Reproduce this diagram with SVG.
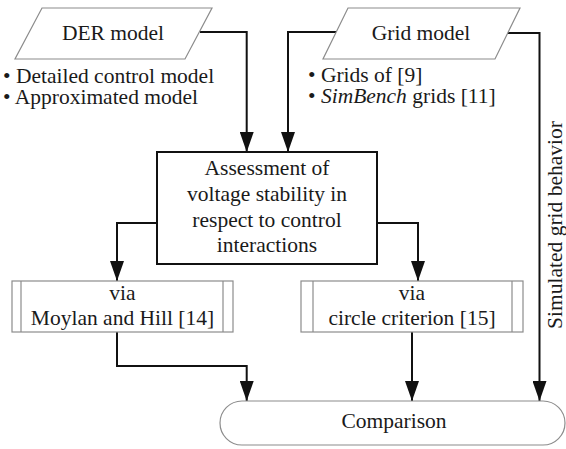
<svg xmlns="http://www.w3.org/2000/svg" width="566" height="449" viewBox="0 0 566 449" font-family="'Liberation Serif', 'Times New Roman', Tinos, 'DejaVu Serif', serif">
<style>
text{font-family:'Liberation Serif','Times New Roman',Tinos,'DejaVu Serif',serif;font-size:21.5px;fill:#1a1a1a}
.c{text-anchor:middle}
.shape{fill:#fff;stroke:#8c8c8c;stroke-width:1.2}
.main{fill:#fff;stroke:#111;stroke-width:2}
.conn{fill:none;stroke:#111;stroke-width:2;marker-end:url(#arr)}
</style>
<defs>
<marker id="arr" markerUnits="userSpaceOnUse" markerWidth="20" markerHeight="14" refX="20" refY="7" orient="auto" viewBox="0 0 20 14">
<path d="M0,0 L20,7 L0,14 z" fill="#111"/>
</marker>
</defs>
<g id="connectors">
<path class="conn" d="M200,32 H246.7 V152"/>
<path class="conn" d="M336,32 H288 V152"/>
<path class="conn" d="M505,33 H539.5 V401"/>
<path class="conn" d="M157,223 H117 V281"/>
<path class="conn" d="M377,223 H418 V281"/>
<path class="conn" d="M117,332 V366 H246.7 V401"/>
<path class="conn" d="M412,332 V401"/>
</g>
<g id="der-model">
<polygon class="shape" points="42,8 212,8 185,59 15,59"/>
<text class="c" x="113" y="40">DER model</text>
</g>
<g id="der-bullets">
<text x="3" y="83">• Detailed control model</text>
<text x="3" y="104">• Approximated model</text>
</g>
<g id="grid-model">
<polygon class="shape" points="348,8 520,8 495,59 323,59"/>
<text class="c" x="421" y="40">Grid model</text>
</g>
<g id="grid-bullets">
<text x="308" y="82">• Grids of [9]</text>
<text x="308" y="103">• <tspan font-style="italic">SimBench</tspan> grids [11]</text>
</g>
<g id="assessment">
<rect class="main" x="157" y="152" width="220" height="112"/>
<text class="c" x="267" y="175">Assessment of</text>
<text class="c" x="267" y="201">voltage stability in</text>
<text class="c" x="267" y="227">respect to control</text>
<text class="c" x="267" y="252">interactions</text>
</g>
<g id="via-moylan">
<rect class="shape" x="12" y="281" width="221" height="51"/>
<line class="shape" x1="21" y1="281" x2="21" y2="332"/>
<line class="shape" x1="223" y1="281" x2="223" y2="332"/>
<text class="c" x="122.5" y="300">via</text>
<text class="c" x="122.5" y="325">Moylan and Hill [14]</text>
</g>
<g id="via-circle">
<rect class="shape" x="301" y="281" width="222" height="51"/>
<line class="shape" x1="313" y1="281" x2="313" y2="332"/>
<line class="shape" x1="512" y1="281" x2="512" y2="332"/>
<text class="c" x="412" y="300">via</text>
<text class="c" x="412" y="325">circle criterion [15]</text>
</g>
<g id="comparison">
<rect class="shape" x="220" y="401" width="345" height="44" rx="22" ry="22"/>
<text class="c" x="394" y="428">Comparison</text>
</g>
<g id="label-simulated">
<text class="c" transform="translate(562,225) rotate(-90)">Simulated grid behavior</text>
</g>
</svg>
